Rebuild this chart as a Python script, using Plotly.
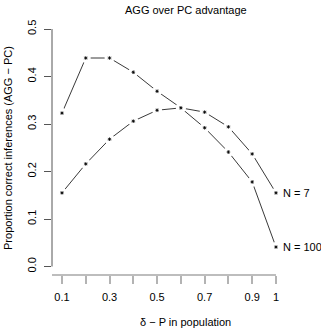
import plotly.graph_objects as go

delta_p = [0.1, 0.2, 0.3, 0.4, 0.5, 0.6, 0.7, 0.8, 0.9, 1.0]
n7 = [0.323, 0.439, 0.439, 0.409, 0.369, 0.334, 0.325, 0.294, 0.237, 0.155]
n100 = [0.155, 0.216, 0.268, 0.306, 0.329, 0.334, 0.292, 0.241, 0.178, 0.041]
series_labels = ["N = 7", "N = 100"]
y_ticks = [0.0, 0.1, 0.2, 0.3, 0.4, 0.5]
y_ticktext = ["0.0", "0.1", "0.2", "0.3", "0.4", "0.5"]
x_ticks = [0.1, 0.2, 0.3, 0.4, 0.5, 0.6, 0.7, 0.8, 0.9, 1.0]
x_ticktext = ["0.1", "", "0.3", "", "0.5", "", "0.7", "", "0.9", "1"]

FONT = "Liberation Sans, Arial, Helvetica, sans-serif"

fig = go.Figure()
for ys in (n7, n100):
    fig.add_trace(go.Scatter(x=delta_p, y=ys, mode="lines",
                             line=dict(color="#222222", width=0.9),
                             showlegend=False, hoverinfo="skip"))
for ys in (n7, n100):
    fig.add_trace(go.Scatter(x=delta_p, y=ys, mode="markers",
                             marker=dict(symbol="circle", size=10, color="white",
                                         line=dict(width=0)),
                             showlegend=False, hoverinfo="skip"))
    fig.add_trace(go.Scatter(x=delta_p, y=ys, mode="markers",
                             marker=dict(symbol="asterisk-open", size=3, color="black",
                                         line=dict(color="black", width=0.8)),
                             showlegend=False))

annotations = [
    dict(text="AGG over PC advantage", x=0.575, y=1.039, xref="paper", yref="paper",
         xanchor="center", yanchor="middle",
         showarrow=False, font=dict(size=11, family=FONT, color="black")),
    dict(text="δ − P in population", x=0.575, y=-0.184, xref="paper", yref="paper",
         xanchor="center", yanchor="middle",
         showarrow=False, font=dict(size=11, family=FONT, color="black")),
    dict(text="Proportion correct inferences (AGG − PC)", x=-0.189, y=0.498,
         xref="paper", yref="paper", textangle=-90, showarrow=False,
         xanchor="center", yanchor="middle",
         font=dict(size=11, family=FONT, color="black")),
]
for lab, ys in zip(series_labels, (n7, n100)):
    annotations.append(dict(text=lab, x=delta_p[-1], y=ys[-1], xref="x", yref="y",
                            xanchor="left", yanchor="middle", xshift=5, showarrow=False,
                            font=dict(size=11, family=FONT, color="black")))

fig.update_layout(
    width=321, height=331,
    margin=dict(l=52, r=36, t=20, b=56),
    paper_bgcolor="white", plot_bgcolor="white",
    annotations=annotations,
    shapes=[
        dict(type="line", xref="paper", yref="y", x0=0, x1=0, y0=0, y1=0.5,
             line=dict(color="#555555", width=1)),
        dict(type="line", xref="x", yref="paper", x0=0.058, x1=1.0, y0=0, y1=0,
             line=dict(color="#bdbdbd", width=2)),
    ],
    xaxis=dict(range=[0.058, 1.038], showgrid=False, zeroline=False, showline=False,
               tickvals=x_ticks, ticktext=x_ticktext, ticks="outside", ticklen=8,
               tickwidth=2, tickcolor="#b3b3b3", ticklabelstandoff=4,
               tickfont=dict(size=11, family=FONT, color="black")),
    yaxis=dict(range=[-0.0179, 0.519], showgrid=False, zeroline=False, showline=False,
               tickvals=y_ticks, ticktext=y_ticktext, ticks="outside", ticklen=7,
               tickwidth=1, tickcolor="#555555", tickangle=-90, ticklabelstandoff=4,
               tickfont=dict(size=11, family=FONT, color="black")),
)

fig.write_html("out.html")
